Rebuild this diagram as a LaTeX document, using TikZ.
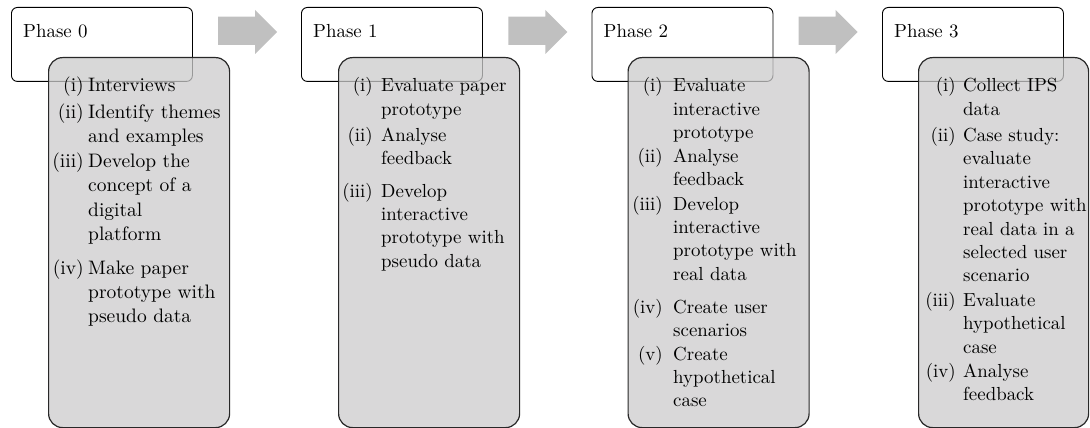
\documentclass[tikz,border=0pt]{standalone}
\usepackage{fontspec}
\setmainfont{lmroman10-regular}[Extension=.otf]
\definecolor{greyfill}{RGB}{204,203,204}
\definecolor{arrowgrey}{RGB}{192,192,192}
\definecolor{boxline}{RGB}{40,40,40}
\newcommand{\phitem}[6]{%
  \node[lab] (#1l) at (#2,#4) {#5};
  \node[itx] (#1t) at (#3,#4) {\begin{tabular}[t]{@{}l@{}}#6\end{tabular}};}
\begin{document}
\begin{tikzpicture}[x=1pt,y=-1pt,
  txt/.style={inner sep=0pt,font=\fontsize{18.9}{23.4}\selectfont},
  lab/.style={txt,anchor=base east},
  itx/.style={txt,anchor=base west},
  hbox/.style={draw=black,line width=0.9pt,fill=white,rounded corners=6pt,
    anchor=north west,minimum width=181pt,minimum height=74pt,inner sep=0pt},
  gbox/.style={draw=boxline,line width=1.2pt,fill=greyfill,fill opacity=0.75,
    draw opacity=1,text opacity=1,rounded corners=14pt,anchor=north west,
    minimum height=370pt,inner sep=0pt},
  ptext/.style={txt,anchor=base west}]
\useasboundingbox (0,0) rectangle (1090,428);
% arrows
\foreach \k in {0,1,2}{
  \fill[arrowgrey,shift={(290.3*\k,0)}] (218,16.7) -- (255,16.7) -- (255,10) -- (277,32)
    -- (255,54) -- (255,45) -- (218,45) -- cycle;
}
% header boxes
\node[hbox] (h0) at (11,7) {};
\node[hbox] (h1) at (301,7) {};
\node[hbox] (h2) at (591.5,7) {};
\node[hbox] (h3) at (882,7) {};
\node[ptext] (ph0) at (23,38) {Phase 0};
\node[ptext] (ph1) at (313,38) {Phase 1};
\node[ptext] (ph2) at (603.5,38) {Phase 2};
\node[ptext] (ph3) at (894,38) {Phase 3};
% grey boxes
\node[gbox,minimum width=181pt] (g0) at (48,57) {};
\node[gbox,minimum width=181pt] (g1) at (338,57) {};
\node[gbox,minimum width=181pt] (g2) at (627.5,57) {};
\node[gbox,minimum width=170pt] (g3) at (918,57) {};
% Phase 0
\begin{scope}[txt/.style={inner sep=0pt,font=\fontsize{19.5}{24.4}\selectfont}]
\phitem{a1}{84}{88}{92}{(i)}{Interviews}
\phitem{a2}{84}{88}{118.3}{(ii)}{Identify themes\\and examples}
\phitem{a3}{84}{88}{167.3}{(iii)}{Develop the\\concept of a\\digital\\platform}
\phitem{a4}{84}{88}{274}{(iv)}{Make paper\\prototype with\\pseudo data}
\end{scope}
% Phase 1
\phitem{b1}{373}{381}{92}{(i)}{Evaluate paper\\prototype}
\phitem{b2}{373}{381}{141}{(ii)}{Analyse\\feedback}
\phitem{b3}{373}{381}{197}{(iii)}{Develop\\interactive\\prototype with\\pseudo data}
% Phase 2
\phitem{c1}{663}{673}{92}{(i)}{Evaluate\\interactive\\prototype}
\phitem{c2}{663}{673}{162}{(ii)}{Analyse\\feedback}
\phitem{c3}{663}{673}{210}{(iii)}{Develop\\interactive\\prototype with\\real data}
\phitem{c4}{663}{673}{313}{(iv)}{Create user\\scenarios}
\phitem{c5}{663}{673}{360}{(v)}{Create\\hypothetical\\case}
% Phase 3
\phitem{d1}{956}{963}{92}{(i)}{Collect IPS\\data}
\phitem{d2}{956}{963}{141.5}{(ii)}{Case study:\\evaluate\\interactive\\prototype with\\real data in a\\selected user\\scenario}
\phitem{d3}{956}{963}{306.5}{(iii)}{Evaluate\\hypothetical\\case}
\phitem{d4}{956}{963}{377}{(iv)}{Analyse\\feedback}
\end{tikzpicture}
\end{document}
